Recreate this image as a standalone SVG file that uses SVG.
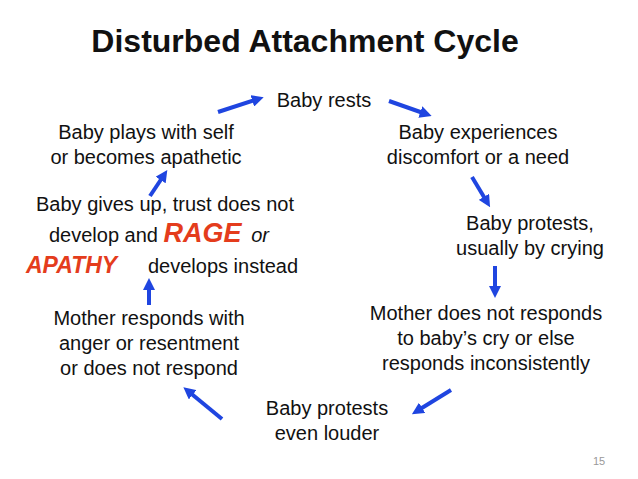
<svg xmlns="http://www.w3.org/2000/svg" width="638" height="479" viewBox="0 0 638 479">
<style>
text{font-family:"Liberation Sans",Arial,sans-serif;font-size:20px;fill:#111;text-anchor:middle}
.t{font-size:32px;font-weight:bold}
.r{fill:#e43c1c;font-weight:bold;font-style:italic}
.a{stroke:#1f45e0;stroke-width:4;fill:none;marker-end:url(#h)}
</style>
<defs><marker id="h" viewBox="0 0 10 10" refX="5" refY="5" markerWidth="3" markerHeight="3" orient="auto"><path d="M0,0L10,5L0,10z" fill="#1f45e0"/></marker></defs>
<rect width="638" height="479" fill="#fff"/>
<text class="t" x="305" y="52">Disturbed Attachment Cycle</text>
<g id="n1"><text x="324" y="107">Baby rests</text></g>
<g id="n2"><text x="478" y="139">Baby experiences</text><text x="478" y="164">discomfort or a need</text></g>
<g id="n3"><text x="530" y="230">Baby protests,</text><text x="530" y="255">usually by crying</text></g>
<g id="n4"><text x="486" y="320">Mother does not responds</text><text x="486" y="345">to baby’s cry or else</text><text x="486" y="370">responds inconsistently</text></g>
<g id="n5"><text x="327" y="415">Baby protests</text><text x="327" y="440">even louder</text></g>
<g id="n6"><text x="149" y="325">Mother responds with</text><text x="149" y="350">anger or resentment</text><text x="149" y="375">or does not respond</text></g>
<g id="n7"><text x="165" y="211">Baby gives up, trust does not</text>
<text x="49" y="242" style="text-anchor:start">develop and <tspan class="r" font-size="27px">RAGE</tspan> <tspan font-style="italic" dx="4">or</tspan></text>
<text x="26" y="273" style="text-anchor:start"><tspan class="r" font-size="23px">APATHY</tspan><tspan x="148">develops instead</tspan></text></g>
<g id="n8"><text x="146" y="139">Baby plays with self</text><text x="146" y="164">or becomes apathetic</text></g>
<g id="connectors">
<path class="a" d="M218,112L258,99"/>
<path class="a" d="M389,101L426,114"/>
<path class="a" d="M472,177L487,202"/>
<path class="a" d="M495,266L495,292"/>
<path class="a" d="M451,390L417,411"/>
<path class="a" d="M222,419L188,391"/>
<path class="a" d="M149,305L149,284"/>
<path class="a" d="M150,196L164,175"/>
</g>
<text x="599" y="465" style="font-size:11px;fill:#999">15</text>
</svg>
